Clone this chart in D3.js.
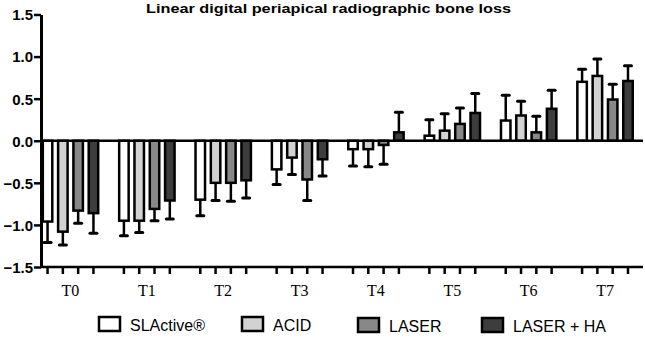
<!DOCTYPE html>
<html>
<head>
<meta charset="utf-8">
<script src="https://d3js.org/d3.v7.min.js"></script>
<style>
body { margin: 0; padding: 0; background: #fff; }
svg { display: block; }
.ylab text { font-family: "Liberation Sans", Arial, sans-serif; font-weight: bold; font-size: 15px; fill: #000; }
.xlab text { font-family: "Liberation Serif", "Times New Roman", serif; font-size: 16px; fill: #000; }
.legend text { font-family: "Liberation Sans", Arial, sans-serif; font-size: 16px; fill: #000; }
</style>
</head>
<body>
<svg id="chart" width="645" height="338"></svg>
<script>
// time points and groups
const groups = ["T0", "T1", "T2", "T3", "T4", "T5", "T6", "T7"];
const series = ["SLActive®", "ACID", "LASER", "LASER + HA"];
const colors = ["#ffffff", "#d2d2d2", "#888888", "#3d3d3d"];

// mean values
const slactive = [-0.96, -0.95, -0.70, -0.34, -0.10, 0.06, 0.24, 0.70];
const acid     = [-1.08, -0.95, -0.50, -0.20, -0.10, 0.12, 0.30, 0.77];
const laser    = [-0.83, -0.81, -0.50, -0.46, -0.05, 0.20, 0.10, 0.49];
const laserHa  = [-0.86, -0.71, -0.47, -0.22, 0.10, 0.33, 0.38, 0.71];

// error bar lengths (one sided)
const slactiveErr = [0.25, 0.18, 0.19, 0.18, 0.20, 0.19, 0.30, 0.15];
const acidErr     = [0.16, 0.14, 0.21, 0.20, 0.21, 0.20, 0.17, 0.20];
const laserErr    = [0.15, 0.14, 0.22, 0.25, 0.23, 0.19, 0.19, 0.18];
const laserHaErr  = [0.24, 0.22, 0.21, 0.20, 0.24, 0.23, 0.22, 0.18];

const yTicks = [-1.5, -1.0, -0.5, 0.0, 0.5, 1.0, 1.5];

const values = [slactive, acid, laser, laserHa];
const errs = [slactiveErr, acidErr, laserErr, laserHaErr];

const data = [];
groups.forEach((g, gi) => {
    series.forEach((s, si) => {
        data.push({group: g, series: s, si: si, value: values[si][gi], err: errs[si][gi]});
    });
});

const svg = d3.select("#chart");
const axisX = 41, axisRight = 643;

const y = d3.scaleLinear().domain([-1.5, 1.5]).range([267, 14.5]);
const x0 = d3.scaleBand().domain(groups).range([32.3, 643.2]).padding(0);
const x1 = d3.scaleBand().domain(series).range([7.6, 68.8]).paddingInner(0.38).paddingOuter(0.19);
const barX = d => x0(d.group) + x1(d.series);
const barC = d => barX(d) + x1.bandwidth() / 2;

// title (stretched a bit, the original font is wider)
svg.append("text")
    .attr("x", 146).attr("y", 13)
    .attr("textLength", 365)
    .attr("lengthAdjust", "spacingAndGlyphs")
    .style("font-family", "'Liberation Sans', Arial, sans-serif")
    .style("font-weight", "bold")
    .style("font-size", "13px")
    .text("Linear digital periapical radiographic bone loss");

// y axis
const yAxis = svg.append("g").attr("class", "ylab")
    .attr("transform", `translate(${axisX},0)`)
    .call(d3.axisLeft(y).tickValues(yTicks).tickFormat(d3.format(".1f")).tickSize(7).tickPadding(1).tickSizeOuter(0));
yAxis.select(".domain").attr("stroke", "#000").attr("stroke-width", 3);
yAxis.selectAll(".tick line").attr("stroke", "#000").attr("stroke-width", 2.5);
yAxis.selectAll(".tick text").attr("dy", "0.36em");

// bottom axis line and per-bar ticks
svg.append("line")
    .attr("x1", axisX - 1).attr("x2", axisRight)
    .attr("y1", y(-1.5)).attr("y2", y(-1.5))
    .attr("stroke", "#000").attr("stroke-width", 2.5);
svg.append("g").selectAll("line").data(data).join("line")
    .attr("x1", barC).attr("x2", barC)
    .attr("y1", y(-1.5)).attr("y2", y(-1.5) + 7)
    .attr("stroke", "#000").attr("stroke-width", 2.5);

// group labels
const xAxis = svg.append("g").attr("class", "xlab")
    .attr("transform", `translate(0,${y(-1.5)})`)
    .call(d3.axisBottom(x0).tickSize(0).tickPadding(18));
xAxis.select(".domain").remove();

// error bars
const eb = svg.append("g").selectAll("g").data(data).join("g");
const tip = d => y(d.value + (d.value >= 0 ? d.err : -d.err));
eb.append("line")
    .attr("x1", barC).attr("x2", barC)
    .attr("y1", d => y(d.value)).attr("y2", tip)
    .attr("stroke", "#000").attr("stroke-width", 2.5);
eb.append("line")
    .attr("x1", d => barC(d) - 3.5).attr("x2", d => barC(d) + 3.5)
    .attr("y1", tip).attr("y2", tip)
    .attr("stroke", "#000").attr("stroke-width", 3).attr("stroke-linecap", "round");

// bars
svg.append("g").selectAll("rect").data(data).join("rect")
    .attr("x", barX)
    .attr("width", x1.bandwidth())
    .attr("y", d => Math.min(y(d.value), y(0)))
    .attr("height", d => Math.abs(y(d.value) - y(0)))
    .attr("fill", d => colors[d.si])
    .attr("stroke", "#000").attr("stroke-width", 2.5);

// zero line
svg.append("line")
    .attr("x1", axisX).attr("x2", axisRight)
    .attr("y1", y(0)).attr("y2", y(0))
    .attr("stroke", "#000").attr("stroke-width", 2.5);

// legend
const legX = [99, 242, 358, 482];
const legY = [317, 317, 318, 318];
const leg = svg.append("g").attr("class", "legend").selectAll("g").data(series).join("g")
    .attr("transform", (d, i) => `translate(${legX[i]},${legY[i]})`);
leg.append("rect")
    .attr("width", 21).attr("height", 14)
    .attr("fill", (d, i) => colors[i])
    .attr("stroke", "#000").attr("stroke-width", 2.5);
leg.append("text")
    .attr("x", 31).attr("y", 14)
    .text(d => d);
</script>
</body>
</html>
